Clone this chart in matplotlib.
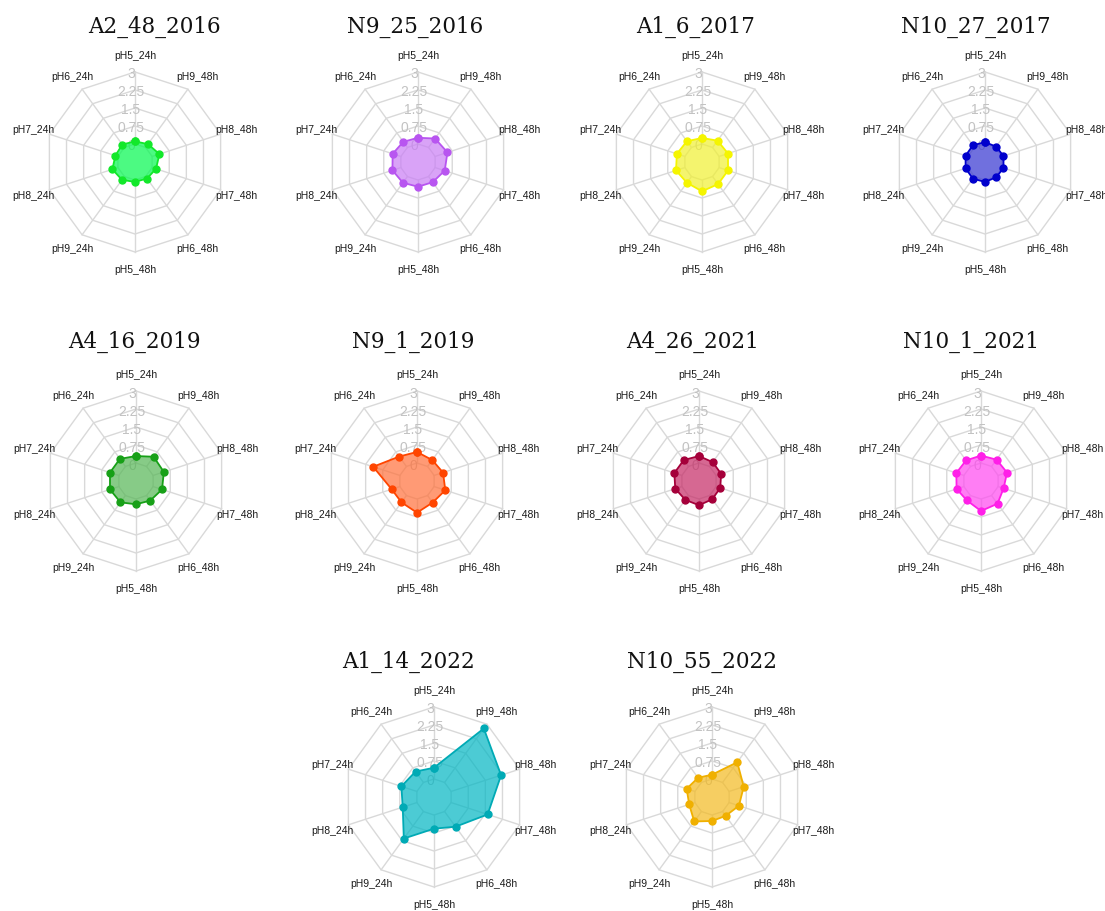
import numpy as np
import matplotlib.pyplot as plt
from matplotlib.transforms import offset_copy

# spokes, clockwise from the top
axis_labels = ['pH5_24h', 'pH9_48h', 'pH8_48h', 'pH7_48h', 'pH6_48h',
               'pH5_48h', 'pH9_24h', 'pH8_24h', 'pH7_24h', 'pH6_24h']
r_ticks = [0, 0.75, 1.5, 2.25, 3]
r_tick_labels = ['0', '0.75', '1.5', '2.25', '3']

titles = ['A2_48_2016', 'N9_25_2016', 'A1_6_2017', 'N10_27_2017',
          'A4_16_2019', 'N9_1_2019', 'A4_26_2021', 'N10_1_2021',
          'A1_14_2022', 'N10_55_2022']

a2_48_2016 = [0.11, 0.17, 0.32, 0.17, 0.10, 0.08, 0.17, 0.24, 0.11, 0.15]
n9_25_2016 = [0.26, 0.46, 0.54, 0.42, 0.29, 0.28, 0.32, 0.37, 0.36, 0.29]
a1_6_2017 = [0.25, 0.35, 0.39, 0.39, 0.39, 0.47, 0.32, 0.39, 0.35, 0.32]
n10_27_2017 = [0.08, 0.04, 0.06, 0.06, 0.04, 0.08, 0.11, 0.10, 0.10, 0.11]
a4_16_2019 = [0.29, 0.50, 0.47, 0.39, 0.26, 0.22, 0.35, 0.39, 0.39, 0.39]
n9_1_2019 = [0.46, 0.33, 0.39, 0.49, 0.36, 0.57, 0.35, 0.36, 1.17, 0.51]
a4_26_2021 = [0.29, 0.22, 0.22, 0.18, 0.19, 0.26, 0.22, 0.29, 0.33, 0.33]
n10_1_2021 = [0.31, 0.35, 0.39, 0.24, 0.42, 0.50, 0.25, 0.32, 0.33, 0.31]
a1_14_2022 = [0.47, 2.78, 2.19, 1.60, 0.78, 0.57, 1.39, 0.62, 0.68, 0.56]
n10_55_2022 = [0.18, 1.04, 0.64, 0.43, 0.22, 0.25, 0.51, 0.25, 0.36, 0.24]

series = [a2_48_2016, n9_25_2016, a1_6_2017, n10_27_2017, a4_16_2019,
          n9_1_2019, a4_26_2021, n10_1_2021, a1_14_2022, n10_55_2022]

line_colors = ['#12e82a', '#b855f0', '#f5f500', '#0000cc', '#17a017',
               '#ff4500', '#a5003a', '#ff1fe8', '#00aab5', '#f0b000']
fill_colors = ['#00f94d', '#c97df5', '#f0f030', '#3434d0', '#55b655',
               '#ff703a', '#c52864', '#ff48f0', '#00b6c3', '#f3ba20']

# layout in pixels: chart centres and title anchors
W, H = 1105, 912
R = 90
centers = [(135, 163), (418, 163), (702, 163), (985, 163),
           (136, 482), (417, 482), (699, 482), (981, 482),
           (434, 798), (712, 798)]
title_pos = [(154, 33), (415, 33), (696, 33), (976, 33),
             (134, 348), (413, 348), (692, 348), (971, 348),
             (408, 668), (702, 668)]

fig = plt.figure(figsize=(W / 100, H / 100), dpi=100)
theta = np.arange(len(axis_labels)) * 2 * np.pi / len(axis_labels)
closed = np.append(theta, theta[0])

for i, vals in enumerate(series):
    cx, cy = centers[i]
    ax = fig.add_axes([(cx - R) / W, (H - cy - R) / H, 2 * R / W, 2 * R / H],
                      projection='polar')
    ax.set_theta_zero_location('N')
    ax.set_theta_direction(-1)
    ax.set_ylim(-0.75, 3)
    ax.axis('off')

    # decagon web
    for r in r_ticks:
        ax.plot(closed, [r] * len(closed), color='#d9d9d9', lw=1, zorder=1,
                clip_on=False)
    for t in theta:
        ax.plot([t, t], [0, 3], color='#d9d9d9', lw=1, zorder=1, clip_on=False)

    tick_tr = offset_copy(ax.transData, fig=fig, x=-4, y=-1.5, units='dots')
    for r, lab in zip(r_ticks, r_tick_labels):
        ax.text(0, r, lab, transform=tick_tr, ha='center', va='center',
                fontsize=10, color='#c2c2c2', family='Liberation Sans',
                zorder=2)

    for t, lab in zip(theta, axis_labels):
        ax.text(t, 3.7, lab, ha='center', va='center', fontsize=7.5,
                color='#1a1a1a', family='Liberation Sans', clip_on=False)

    v = np.append(vals, vals[0])
    ax.fill(closed, v, color=fill_colors[i], alpha=0.7, lw=0, zorder=3)
    ax.plot(closed, v, color=line_colors[i], lw=1.3, marker='o', ms=5,
            zorder=4, clip_on=False)

    tx, ty = title_pos[i]
    fig.text(tx / W, 1 - ty / H, titles[i], ha='center', va='baseline',
             fontsize=15.5, family='DejaVu Serif', color='#111111')

fig.savefig('out.png', dpi=100, facecolor='white')
